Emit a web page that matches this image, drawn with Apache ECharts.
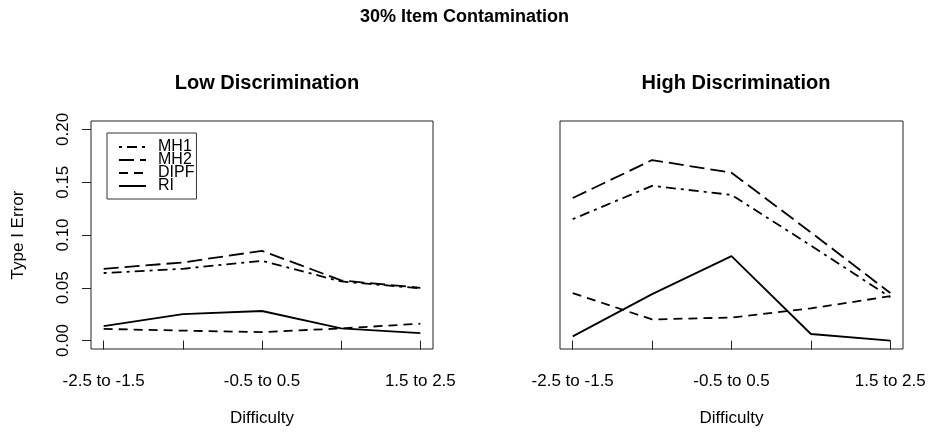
<!DOCTYPE html>
<html>
<head>
<meta charset="utf-8">
<script src="https://cdn.jsdelivr.net/npm/echarts@6/dist/echarts.min.js"></script>
<style>
  html, body { margin: 0; padding: 0; background: #fff; }
  #chart { width: 929px; height: 432px; }
</style>
</head>
<body>
<div id="chart"></div>
<script>
// Difficulty bins (x positions 1..5)
const categories = ["-2.5 to -1.5", "-1.5 to -0.5", "-0.5 to 0.5", "0.5 to 1.5", "1.5 to 2.5"];
// Bins whose label is printed under the axis
const labelledBins = [1, 3, 5];
const yTicks = [0, 0.05, 0.10, 0.15, 0.20];
const seriesNames = ["MH1", "MH2", "DIPF", "RI"];

// Type I error rates, low discrimination items
const lowMH1  = [0.064, 0.068, 0.0755, 0.056, 0.0495];
const lowMH2  = [0.068, 0.074, 0.085, 0.057, 0.050];
const lowDIPF = [0.011, 0.0094, 0.008, 0.0115, 0.016];
const lowRI   = [0.0137, 0.025, 0.028, 0.0115, 0.007];

// Type I error rates, high discrimination items
const highMH1  = [0.115, 0.1466, 0.138, 0.090, 0.041];
const highMH2  = [0.135, 0.171, 0.159, 0.1025, 0.045];
const highDIPF = [0.045, 0.020, 0.0218, 0.0305, 0.042];
const highRI   = [0.004, 0.044, 0.080, 0.0062, 0.0];

const FONT = "'Liberation Sans', Arial, Helvetica, sans-serif";
const lineStyles = {
  MH1:  { type: [3, 5, 10, 5] },
  MH2:  { type: [15, 6] },
  DIPF: { type: [9, 6] },
  RI:   { type: 'solid' }
};

function pairs(values) {
  return values.map((v, i) => [i + 1, v]);
}

function makeSeries(name, values, gridIdx) {
  return {
    name: name,
    type: 'line',
    xAxisIndex: gridIdx,
    yAxisIndex: gridIdx,
    data: pairs(values),
    showSymbol: false,
    symbol: 'none',
    silent: true,
    animation: false,
    color: '#000',
    itemStyle: { color: '#000' },
    lineStyle: { color: '#000', width: 1.8, type: lineStyles[name].type }
  };
}

function xAxisFor(gridIdx) {
  return {
    type: 'value',
    gridIndex: gridIdx,
    min: 0.84,
    max: 5.16,
    axisLine: { show: false },
    splitLine: { show: false },
    axisTick: {
      show: true, inside: false, length: 9,
      customValues: categories.map((c, i) => i + 1),
      lineStyle: { color: '#222', width: 1 }
    },
    axisLabel: {
      customValues: labelledBins,
      formatter: v => categories[Math.round(v) - 1] || '',
      fontFamily: FONT, fontSize: 17, color: '#000', margin: 24
    },
    name: 'Difficulty',
    nameLocation: 'middle',
    nameGap: 61,
    nameTextStyle: { fontFamily: FONT, fontSize: 17, color: '#000' }
  };
}

const option = {
  animation: false,
  backgroundColor: '#fff',
  title: [
    { text: '30% Item Contamination', left: 'center', top: 3,
      textStyle: { fontFamily: FONT, fontSize: 18, fontWeight: 'bold', color: '#000' } },
    { text: 'Low Discrimination', left: 262, textAlign: 'center', top: 68,
      textStyle: { fontFamily: FONT, fontSize: 20, fontWeight: 'bold', color: '#000' } },
    { text: 'High Discrimination', left: 731, textAlign: 'center', top: 68,
      textStyle: { fontFamily: FONT, fontSize: 20, fontWeight: 'bold', color: '#000' } }
  ],
  legend: {
    show: true,
    data: seriesNames,
    orient: 'vertical',
    left: 107,
    top: 133,
    padding: [6, 2, 5, 11],
    itemGap: -3,
    itemWidth: 27,
    itemHeight: 13,
    borderColor: '#333',
    borderWidth: 1,
    selectedMode: false,
    itemStyle: { opacity: 0 },
    textStyle: { fontFamily: FONT, fontSize: 16, color: '#000', padding: [0, 0, 0, 7] }
  },
  grid: [
    { left: 91, top: 121, width: 342, height: 231, show: true, borderColor: '#222', borderWidth: 1, backgroundColor: 'transparent' },
    { left: 560, top: 121, width: 343, height: 230, show: true, borderColor: '#222', borderWidth: 1, backgroundColor: 'transparent' }
  ],
  xAxis: [xAxisFor(0), xAxisFor(1)],
  yAxis: [
    {
      type: 'value', gridIndex: 0, min: -0.008, max: 0.208,
      axisLine: { show: false }, splitLine: { show: false },
      axisTick: { show: true, length: 9, customValues: yTicks, lineStyle: { color: '#222' } },
      axisLabel: {
        customValues: yTicks, rotate: 90, margin: 19,
        formatter: v => v.toFixed(2),
        fontFamily: FONT, fontSize: 17, color: '#000'
      },
      name: 'Type I Error', nameLocation: 'middle', nameGap: 64, nameRotate: 90,
      nameTextStyle: { fontFamily: FONT, fontSize: 17, color: '#000' }
    },
    {
      type: 'value', gridIndex: 1, min: -0.008, max: 0.208,
      axisLine: { show: false }, splitLine: { show: false },
      axisTick: { show: false }, axisLabel: { show: false }
    }
  ],
  series: [
    makeSeries('MH1', lowMH1, 0),
    makeSeries('MH2', lowMH2, 0),
    makeSeries('DIPF', lowDIPF, 0),
    makeSeries('RI', lowRI, 0),
    makeSeries('MH1', highMH1, 1),
    makeSeries('MH2', highMH2, 1),
    makeSeries('DIPF', highDIPF, 1),
    makeSeries('RI', highRI, 1)
  ]
};

const chart = echarts.init(document.getElementById('chart'), null, { renderer: 'canvas' });
chart.setOption(option);
</script>
</body>
</html>
